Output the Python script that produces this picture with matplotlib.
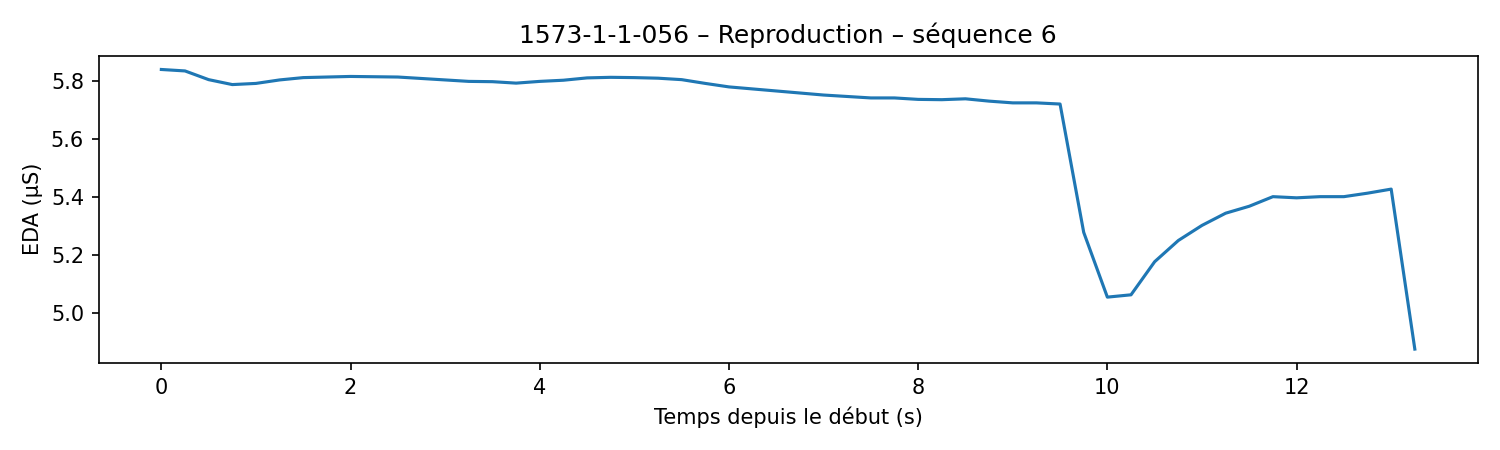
import matplotlib
matplotlib.use("Agg")
import matplotlib.pyplot as plt
import numpy as np

time_s = [0.0, 0.25, 0.5, 0.75, 1.0, 1.25, 1.5, 1.75, 2.0, 2.25, 2.5, 2.75,
          3.0, 3.25, 3.5, 3.75, 4.0, 4.25, 4.5, 4.75, 5.0, 5.25, 5.5, 5.75,
          6.0, 6.25, 6.5, 6.75, 7.0, 7.25, 7.5, 7.75, 8.0, 8.25, 8.5, 8.75,
          9.0, 9.25, 9.5, 9.75, 10.0, 10.25, 10.5, 10.75, 11.0, 11.25, 11.5,
          11.75, 12.0, 12.25, 12.5, 12.75, 13.0, 13.25]
eda_us = [5.838, 5.833, 5.803, 5.786, 5.790, 5.802, 5.810, 5.812, 5.814, 5.813,
          5.812, 5.807, 5.802, 5.797, 5.796, 5.791, 5.797, 5.801, 5.809, 5.811,
          5.810, 5.808, 5.803, 5.790, 5.778, 5.771, 5.764, 5.757, 5.750, 5.745,
          5.740, 5.740, 5.735, 5.734, 5.737, 5.729, 5.723, 5.723, 5.719, 5.277,
          5.054, 5.062, 5.176, 5.249, 5.301, 5.343, 5.367, 5.400, 5.396, 5.400,
          5.400, 5.412, 5.426, 4.875]

fig, ax = plt.subplots(figsize=(10, 3), dpi=150)
ax.plot(time_s, eda_us, color="#1f77b4", linewidth=1.5)
ax.set_title("1573-1-1-056 – Reproduction – séquence 6")
ax.set_xlabel("Temps depuis le début (s)")
ax.set_ylabel("EDA (µS)")
fig.tight_layout()
fig.savefig("out.png", dpi=150)
